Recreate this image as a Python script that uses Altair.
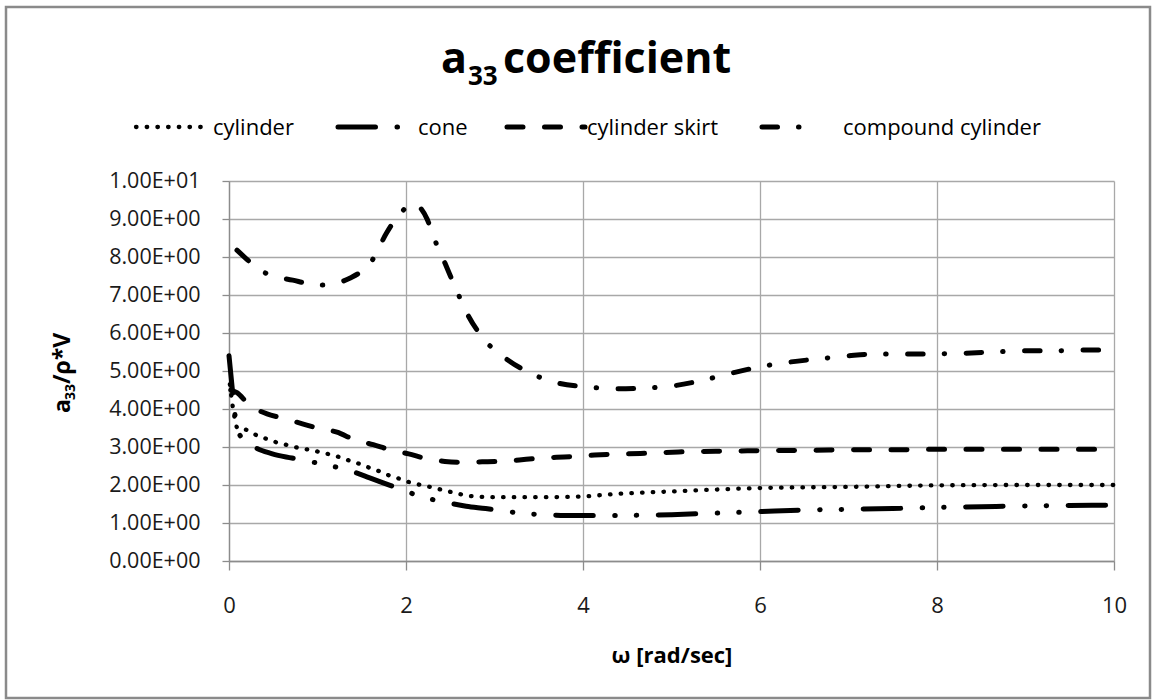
import altair as alt
import pandas as pd

# ---- data: added-mass coefficient a33/(rho*V) against wave frequency ----
SERIES = ["cylinder", "cone", "cylinder skirt", "compound cylinder"]

CYL_W = [0.01, 0.05, 0.10, 0.20, 0.32, 0.43, 0.54, 0.66, 0.78, 0.90, 1.02, 1.13,
         1.24, 1.35, 1.47, 1.59, 1.70, 1.81, 1.92, 2.03, 2.27, 2.50, 2.73, 2.97,
         3.20, 3.58, 3.91, 4.41, 5.00, 6.00, 7.00, 8.00, 9.00, 10.00]
CYL_A = [4.65, 3.95, 3.48, 3.45, 3.30, 3.21, 3.12, 3.05, 2.98, 2.93, 2.87, 2.81,
         2.74, 2.65, 2.56, 2.45, 2.36, 2.25, 2.17, 2.08, 1.95, 1.82, 1.71, 1.68,
         1.68, 1.68, 1.69, 1.77, 1.83, 1.92, 1.95, 1.99, 2.00, 2.00]

CONE_W = [0.00, 0.03, 0.06, 0.10, 0.26, 0.49, 0.71, 0.93, 1.14, 1.36, 1.59, 1.82,
          2.04, 2.21, 2.44, 2.68, 2.90, 3.12, 3.34, 3.56, 3.80, 4.03, 4.50, 5.00,
          5.50, 6.00, 6.50, 7.00, 7.50, 8.00, 8.50, 9.00, 9.50, 10.00]
CONE_A = [5.40, 4.70, 4.00, 3.40, 3.04, 2.82, 2.71, 2.61, 2.51, 2.38, 2.19, 1.99,
          1.80, 1.67, 1.55, 1.44, 1.38, 1.31, 1.25, 1.22, 1.20, 1.20, 1.20, 1.22,
          1.26, 1.30, 1.34, 1.36, 1.38, 1.41, 1.43, 1.45, 1.46, 1.47]

SKIRT_W = [0.02, 0.09, 0.22, 0.43, 0.59, 0.83, 1.00, 1.22, 1.41, 1.63, 1.83, 2.03,
           2.22, 2.44, 2.61, 2.86, 3.07, 3.28, 3.47, 3.70, 3.90, 4.13, 4.65, 5.08,
           5.50, 5.91, 6.34, 6.78, 7.19, 7.60, 8.03, 8.45, 8.88, 9.29, 9.71, 10.00]
SKIRT_A = [4.50, 4.43, 4.13, 3.87, 3.77, 3.61, 3.50, 3.39, 3.20, 3.06, 2.92, 2.82,
           2.70, 2.62, 2.60, 2.61, 2.62, 2.66, 2.70, 2.73, 2.75, 2.79, 2.83, 2.87,
           2.89, 2.90, 2.91, 2.92, 2.93, 2.93, 2.94, 2.94, 2.94, 2.94, 2.94, 2.94]

COMP_W = [0.09, 0.41, 0.72, 1.05, 1.37, 1.62, 1.78, 1.94, 2.08, 2.24, 2.32, 2.44,
          2.57, 2.70, 2.88, 3.12, 3.40, 3.72, 4.05, 4.39, 4.70, 5.02, 5.36, 5.69,
          6.00, 6.35, 6.67, 7.00, 7.33, 7.67, 7.99, 8.33, 8.64, 8.98, 9.31, 9.65,
          10.00]
COMP_A = [8.18, 7.58, 7.39, 7.26, 7.45, 7.92, 8.63, 9.16, 9.40, 8.99, 8.48, 7.84,
          7.13, 6.47, 5.84, 5.34, 4.95, 4.68, 4.58, 4.53, 4.55, 4.61, 4.76, 4.95,
          5.11, 5.24, 5.32, 5.40, 5.45, 5.45, 5.45, 5.47, 5.50, 5.53, 5.53, 5.55,
          5.55]

X_TICKS = [0, 2, 4, 6, 8, 10]
Y_TICKS = list(range(0, 11))

# ---- line styles ----
DASHES = {
    "cylinder": [0.5, 10.2],
    "cone": [37.5, 21.5, 0.5, 21, 0.5, 21.5],
    "cylinder skirt": [16, 21.5],
    "compound cylinder": [15.5, 21, 0.5, 21.5],
}
WIDTHS = {"cylinder": 4.3, "cone": 5, "cylinder skirt": 5, "compound cylinder": 5}

FONT = "Open Sans"
W, H = 885, 380
LEFT, TOP = 229, 181

frames = [
    pd.DataFrame({"series": name, "omega": w, "a33": a})
    for name, w, a in zip(
        SERIES,
        [CYL_W, CONE_W, SKIRT_W, COMP_W],
        [CYL_A, CONE_A, SKIRT_A, COMP_A],
    )
]
df = pd.concat(frames, ignore_index=True)

x_enc = alt.X(
    "omega:Q",
    scale=alt.Scale(domain=[0, 10], nice=False),
    axis=alt.Axis(
        values=X_TICKS,
        title="ω [rad/sec]",
        titleFont=FONT,
        titleFontSize=22,
        titleFontWeight="bold",
        titleColor="#000000",
        titleBaseline="alphabetic",
        titleY=101,
        labelFontSize=22,
        labelPadding=25,
        labelFlush=False,
        tickSize=9,
    ),
)
y_enc = alt.Y(
    "a33:Q",
    scale=alt.Scale(domain=[0, 10], nice=False),
    axis=alt.Axis(
        values=Y_TICKS,
        title=None,
        labelExpr="datum.value == 10 ? '1.00E+01' : format(datum.value, '.2f') + 'E+00'",
        labelFontSize=21.5,
        labelPadding=22,
        labelFlush=False,
        tickSize=7,
    ),
)

layers = []
for name in SERIES:
    layers.append(
        alt.Chart(df)
        .transform_filter(alt.datum.series == name)
        .mark_line(
            color="#000000",
            strokeWidth=WIDTHS[name],
            strokeDash=DASHES[name],
            strokeCap="round",
            interpolate="monotone",
        )
        .encode(x=x_enc, y=y_enc)
    )

# ---- legend row above the plot ----
LEG_X0 = [136, 338, 507, 762]
LEG_X1 = [210, 398, 585, 820]
LEG_TX = [213, 418, 587, 843]
LEG_Y = 127
for i, name in enumerate(SERIES):
    layers.append(
        alt.Chart(pd.DataFrame({"label": [name]}))
        .mark_rule(
            color="#000000",
            strokeWidth=WIDTHS[name],
            strokeDash=DASHES[name],
            strokeCap="round",
        )
        .encode(
            x=alt.value(LEG_X0[i] - LEFT),
            x2=alt.value(LEG_X1[i] - LEFT),
            y=alt.value(LEG_Y - TOP),
        )
    )
    layers.append(
        alt.Chart(pd.DataFrame({"label": [name]}))
        .mark_text(align="left", baseline="alphabetic", font=FONT, fontSize=22, color="#000000")
        .encode(
            x=alt.value(LEG_TX[i] - LEFT),
            y=alt.value(LEG_Y + 8 - TOP),
            text="label:N",
        )
    )


def text_piece(s, x, y, size, align="left", angle=0, weight="bold"):
    return (
        alt.Chart(pd.DataFrame({"label": [s]}))
        .mark_text(
            align=align,
            baseline="alphabetic",
            font=FONT,
            fontSize=size,
            fontWeight=weight,
            angle=angle,
            color="#000000",
        )
        .encode(x=alt.value(x - LEFT), y=alt.value(y - TOP), text="label:N")
    )


# ---- chart title: a33 coefficient (with subscript) ----
layers.append(text_piece("a", 467, 73, 43, align="right"))
layers.append(text_piece("33", 468, 85, 26))
layers.append(text_piece("coefficient", 503, 73, 43))

# ---- y axis title: a33/ρ*V, rotated ----
layers.append(text_piece("a", 70, 413, 23, angle=270))
layers.append(text_piece("33", 75, 400, 14, angle=270))
layers.append(text_piece("/ρ*V", 70, 384, 23, angle=270))

# ---- outer frame ----
layers.append(
    alt.Chart(pd.DataFrame({"label": ["frame"]}))
    .mark_rect(fill="transparent", stroke="#8a8a8a", strokeWidth=2.5)
    .encode(
        x=alt.value(6 - LEFT),
        x2=alt.value(1150 - LEFT),
        y=alt.value(7 - TOP),
        y2=alt.value(698 - TOP),
    )
)

chart = (
    alt.layer(*layers)
    .properties(
        width=W,
        height=H,
        autosize=alt.AutoSizeParams(type="none"),
        padding={"left": LEFT, "top": TOP, "right": 1153 - LEFT - W, "bottom": 700 - TOP - H},
        background="#ffffff",
    )
    .configure_view(stroke="transparent")
    .configure_axis(
        labelFont=FONT,
        labelColor="#1a1a1a",
        grid=True,
        gridColor="#a8a8a8",
        gridWidth=1.3,
        domainColor="#8c8c8c",
        domainWidth=1.3,
        tickColor="#8c8c8c",
        tickWidth=1.3,
    )
)

chart.save("out.html", embed_options={"renderer": "svg", "actions": False})
